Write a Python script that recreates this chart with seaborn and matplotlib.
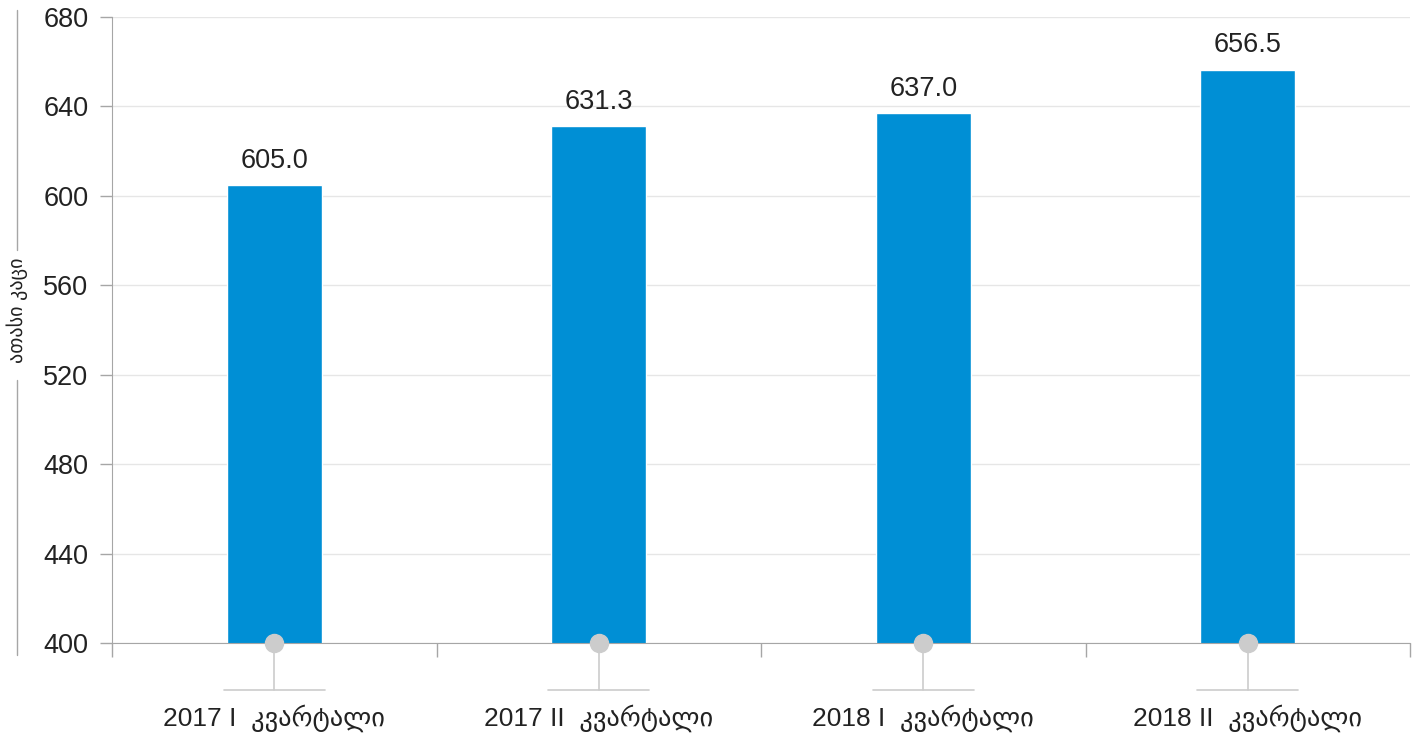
import numpy as np
import pandas as pd
import matplotlib.pyplot as plt
import seaborn as sns
from matplotlib.lines import Line2D

# data
quarters = ["2017 I  კვარტალი", "2017 II  კვარტალი", "2018 I  კვარტალი", "2018 II  კვარტალი"]
employed = [605.0, 631.3, 637.0, 656.5]
y_ticks = [400, 440, 480, 520, 560, 600, 640, 680]
y_label = "ათასი კაცი"

BAR = "#008FD5"
TXT = "#222222"
AXIS = "#a6a6a6"
DECOR = "#cccccc"

sns.set_style("white")
plt.rcParams["font.family"] = ["Liberation Sans", "DejaVu Sans"]

df = pd.DataFrame({"quarter": quarters, "value": employed})

fig = plt.figure(figsize=(14.22, 7.35), dpi=100)
ax = fig.add_axes([112 / 1422, 1 - 643 / 735, (1410 - 112) / 1422, (643 - 17) / 735])

sns.barplot(data=df, x="quarter", y="value", color=BAR, width=0.293,
            saturation=1, ax=ax, zorder=2)

ax.set_ylim(400, 680)
ax.set_xlim(-0.5, len(quarters) - 0.5)
ax.set_yticks(y_ticks)
ax.tick_params(axis="y", length=9, width=1, color=AXIS, labelsize=19.5,
               labelcolor=TXT, pad=8, left=True)
ax.grid(axis="y", color="#e6e6e6", linewidth=1, zorder=0)
ax.set_axisbelow(True)

# category boundary ticks on the x axis
ax.set_xticks([])
ax.set_xticks(np.arange(-0.5, len(quarters)), minor=True)
ax.tick_params(axis="x", which="minor", length=10, width=1, color=AXIS, bottom=True)
ax.set_xlabel("")
ax.set_ylabel("")

for side in ["top", "right"]:
    ax.spines[side].set_visible(False)
ax.spines["left"].set_color(AXIS)
ax.spines["bottom"].set_color(AXIS)
ax.spines["bottom"].set_zorder(3)

# value labels
for c in ax.containers:
    ax.bar_label(c, labels=[f"{v:.1f}" for v in employed], padding=8,
                 fontsize=19.5, color=TXT)

# dot / stem / bar under each category
trans = ax.get_xaxis_transform()
for i, q in enumerate(quarters):
    ax.plot([i], [0], marker="o", markersize=13, color=DECOR, transform=trans,
            clip_on=False, zorder=5)
    ax.plot([i, i], [0, -0.075], color=DECOR, lw=1.2, transform=trans, clip_on=False)
    ax.plot([i - 0.155, i + 0.155], [-0.075, -0.075], color=DECOR, lw=1.2,
            transform=trans, clip_on=False)
    ax.text(i, -0.12, q, transform=trans, ha="center", va="center",
            fontsize=19, color=TXT)

# rotated unit label with line breaks above/below
fig.text(17 / 1422, 1 - 310 / 735, y_label, rotation=90, ha="center", va="center",
         fontsize=14.5, color=TXT)
fig.add_artist(Line2D([17 / 1422, 17 / 1422], [1 - 10 / 735, 1 - 250 / 735],
                      color=AXIS, lw=1))
fig.add_artist(Line2D([17 / 1422, 17 / 1422], [1 - 380 / 735, 1 - 655 / 735],
                      color=AXIS, lw=1))

plt.savefig("out.png", dpi=100)
